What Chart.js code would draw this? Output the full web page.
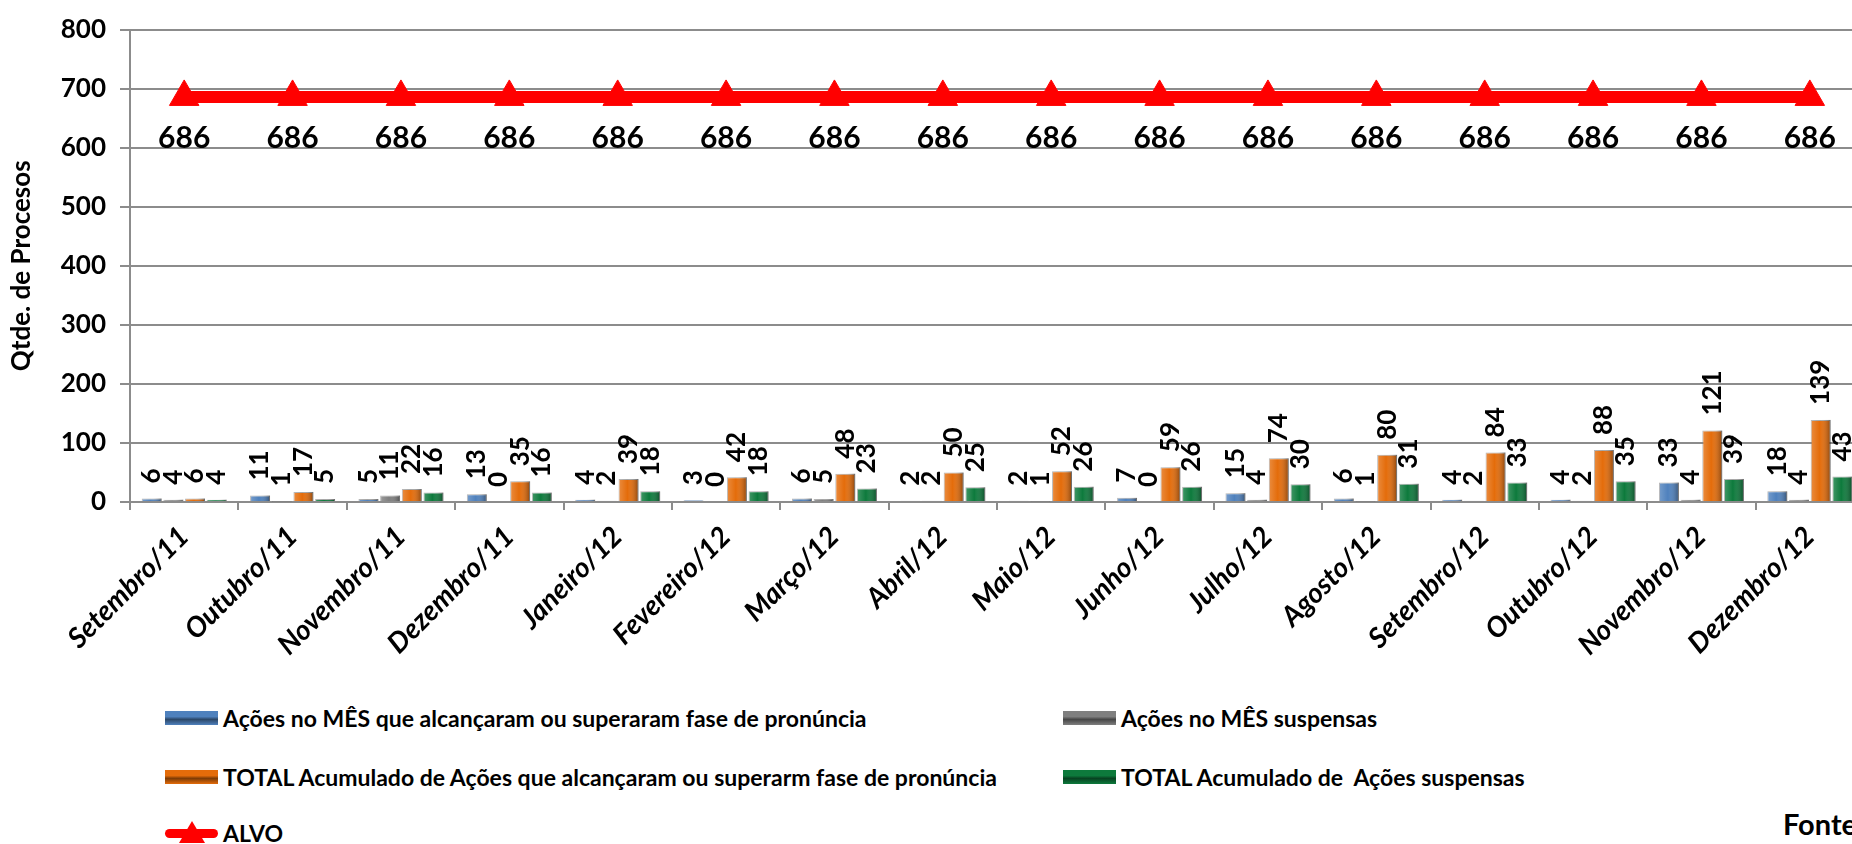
<!DOCTYPE html>
<html>
<head>
<meta charset="utf-8">
<script src="https://cdn.jsdelivr.net/npm/chart.js@4.4.1/dist/chart.umd.min.js"></script>
<style>
  html, body { margin: 0; padding: 0; background: #fff; overflow: hidden; }
  #page { position: relative; width: 1852px; height: 844px; overflow: hidden; font-family: Lato, sans-serif; }
  #chart-box { position: absolute; left: 0; top: 0; width: 1866px; height: 660px; }
  .legend-item { position: absolute; display: flex; align-items: center; font-weight: bold; font-size: 23px; color: #000; transform: translateY(-50%); white-space: pre; }
  .swatch { width: 53px; height: 14px; margin-right: 5px; position: relative; }
  #fonte { position: absolute; left: 1783px; top: 823px; transform: translateY(-50%); font-weight: bold; font-size: 29px; white-space: nowrap; }
</style>
</head>
<body>
<div id="page">
  <div id="chart-box"><canvas id="chart"></canvas></div>
  <div id="legend"></div>
  <div id="fonte">Fonte:</div>
</div>
<script>
'use strict'

/* ------------------------------ Data ------------------------------ */

const months = ['Setembro/11', 'Outubro/11', 'Novembro/11', 'Dezembro/11', 'Janeiro/12', 'Fevereiro/12',
  'Março/12', 'Abril/12', 'Maio/12', 'Junho/12', 'Julho/12', 'Agosto/12', 'Setembro/12', 'Outubro/12',
  'Novembro/12', 'Dezembro/12']

const acoesMes = [6, 11, 5, 13, 4, 3, 6, 2, 2, 7, 15, 6, 4, 4, 33, 18]
const suspensasMes = [4, 1, 11, 0, 2, 0, 5, 2, 1, 0, 4, 1, 2, 2, 4, 4]
const totalAcumulado = [6, 17, 22, 35, 39, 42, 48, 50, 52, 59, 74, 80, 84, 88, 121, 139]
const totalSuspensas = [4, 5, 16, 16, 18, 18, 23, 25, 26, 26, 30, 31, 33, 35, 39, 43]
const alvo = [686, 686, 686, 686, 686, 686, 686, 686, 686, 686, 686, 686, 686, 686, 686, 686]

const yTicks = [0, 100, 200, 300, 400, 500, 600, 700, 800]

const seriesNames = [
  'Ações no MÊS que alcançaram ou superaram fase de pronúncia',
  'Ações no MÊS suspensas',
  'TOTAL Acumulado de Ações que alcançaram ou superarm fase de pronúncia',
  'TOTAL Acumulado de  Ações suspensas',
  'ALVO'
]
const seriesColors = ['#4f81bd', '#7f7f7f', '#e46c0a', '#0d7a3c', '#ff0000']

/* ------------------------------ Plugins ------------------------------ */

// darker right side on each bar, a rough take on the bevel look
const bevel = {
  id: 'bevel',
  afterDatasetDraw (chart, args) {
    if (args.meta.type !== 'bar') return
    const ctx = chart.ctx
    ctx.save()
    args.meta.data.forEach(bar => {
      const { x, y, base, width } = bar.getProps(['x', 'y', 'base', 'width'], true)
      const h = base - y
      if (h < 1) return
      const left = x - width / 2
      const g = ctx.createLinearGradient(left, 0, left + width, 0)
      g.addColorStop(0, 'rgba(255,255,255,0.22)')
      g.addColorStop(0.45, 'rgba(255,255,255,0)')
      g.addColorStop(1, 'rgba(0,0,0,0.38)')
      ctx.fillStyle = g
      ctx.fillRect(left, y, width, h)
    })
    ctx.restore()
  }
}

const valueLabels = {
  id: 'valueLabels',
  afterDatasetsDraw (chart) {
    const ctx = chart.ctx
    ctx.save()
    ctx.fillStyle = '#000'
    chart.data.datasets.forEach((ds, i) => {
      const meta = chart.getDatasetMeta(i)
      meta.data.forEach((el, j) => {
        const v = ds.data[j]
        if (meta.type === 'line') {
          ctx.font = 'bold 30px Lato'
          ctx.textAlign = 'center'
          ctx.textBaseline = 'middle'
          ctx.fillText(v, el.x, el.y + 41)
        } else {
          ctx.font = 'bold 26px Lato'
          ctx.save()
          ctx.translate(el.x, el.y - 15)
          ctx.rotate(-Math.PI / 2)
          ctx.textAlign = 'left'
          ctx.textBaseline = 'middle'
          ctx.fillText(v, 0, 0)
          ctx.restore()
        }
      })
    })
    ctx.restore()
  }
}

/* ------------------------------ Chart ------------------------------ */

Chart.defaults.font.family = 'Lato'
Chart.defaults.color = '#000'

function barSet (idx, values) {
  return {
    type: 'bar',
    label: seriesNames[idx],
    data: values,
    backgroundColor: seriesColors[idx],
    borderColor: 'rgba(0,0,0,0.35)',
    borderWidth: 1,
    categoryPercentage: 0.8,
    barPercentage: 0.92,
    order: 2
  }
}

const gridGray = '#8c8c8c'

new Chart(document.getElementById('chart'), {
  data: {
    labels: months,
    datasets: [
      barSet(0, acoesMes),
      barSet(1, suspensasMes),
      barSet(2, totalAcumulado),
      barSet(3, totalSuspensas),
      {
        type: 'line',
        label: seriesNames[4],
        data: alvo,
        borderColor: seriesColors[4],
        backgroundColor: seriesColors[4],
        borderWidth: 12,
        pointStyle: 'triangle',
        pointRadius: 17,
        pointBorderWidth: 1,
        pointBackgroundColor: seriesColors[4],
        pointBorderColor: seriesColors[4],
        order: 1
      }
    ]
  },
  options: {
    responsive: true,
    maintainAspectRatio: false,
    animation: false,
    layout: { padding: { top: 24, right: 2, left: 0, bottom: 0 }, autoPadding: false },
    plugins: {
      legend: { display: false },
      tooltip: { enabled: false }
    },
    scales: {
      x: {
        grid: { display: true, drawOnChartArea: false, drawTicks: true, tickLength: 8, color: gridGray, lineWidth: 2, offset: true },
        border: { color: gridGray, width: 2 },
        ticks: {
          maxRotation: 45,
          minRotation: 45,
          padding: 10,
          font: { size: 28, weight: 'bold', style: 'italic' }
        },
        afterFit (scale) { scale.height = 158 }
      },
      y: {
        min: 0,
        max: 800,
        afterBuildTicks (scale) { scale.ticks = yTicks.map(v => ({ value: v })) },
        grid: { color: gridGray, lineWidth: 2, tickLength: 10 },
        border: { color: gridGray, width: 2 },
        ticks: { padding: 14, font: { size: 26, weight: 'bold' } },
        title: {
          display: true,
          text: 'Qtde. de Procesos',
          padding: { top: 6, bottom: 0 },
          font: { size: 26, weight: 'bold' }
        },
        afterFit (scale) { scale.width = 130 }
      }
    }
  },
  plugins: [bevel, valueLabels]
})

/* ------------------------------ Legend ------------------------------ */

const legendBox = document.getElementById('legend')
const legendSpots = [[165, 718], [1063, 718], [165, 777], [1063, 777], [165, 833]]

seriesNames.forEach((name, i) => {
  const item = document.createElement('div')
  item.classList.add('legend-item')
  item.style.left = legendSpots[i][0] + 'px'
  item.style.top = legendSpots[i][1] + 'px'
  let swatch
  if (i === 4) {
    swatch = `<div class="swatch" style="height:24px"><div style="position:absolute;left:0;right:0;top:8px;height:9px;border-radius:5px;background:${seriesColors[i]}"></div><div style="position:absolute;left:14px;top:0;width:0;height:0;border-left:13px solid transparent;border-right:13px solid transparent;border-bottom:22px solid ${seriesColors[i]}"></div></div>`
  } else {
    swatch = `<div class="swatch" style="background:linear-gradient(${seriesColors[i]} 0%, ${seriesColors[i]} 40%, rgba(0,0,0,0.45) 60%, ${seriesColors[i]} 100%), ${seriesColors[i]}"></div>`
  }
  item.innerHTML = swatch + `<span>${name}</span>`
  legendBox.appendChild(item)
})
</script>
</body>
</html>
